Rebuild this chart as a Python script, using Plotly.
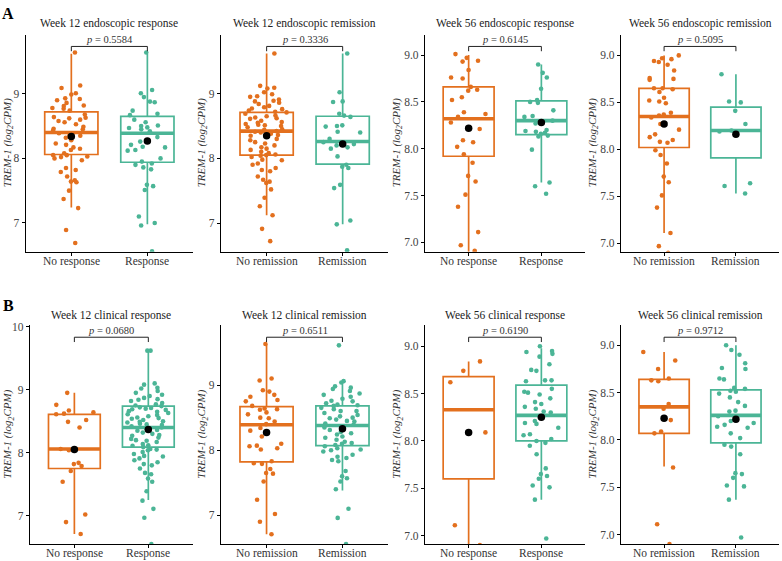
import plotly.graph_objects as go

# ---------------- data ----------------
titles = ["Week 12 endoscopic response", "Week 12 endoscopic remission",
          "Week 56 endoscopic response", "Week 56 endoscopic remission",
          "Week 12 clinical response", "Week 12 clinical remission",
          "Week 56 clinical response", "Week 56 clinical remission"]
neg_labels = ["No response", "No remission", "No response", "No remission",
              "No response", "No remission", "No response", "No remission"]
pos_labels = ["Response", "Remission", "Response", "Remission",
              "Response", "Remission", "Response", "Remission"]
p_values = ["0.5584", "0.3336", "0.6145", "0.5095", "0.0680", "0.6511", "0.6190", "0.9712"]

# box statistics (negative group / positive group)
neg_lo = [7.24, 7.12, 6.90, 7.11, 6.71, 6.71, 6.90, 7.72]
neg_q1 = [8.06, 8.05, 7.92, 8.02, 7.75, 7.82, 7.60, 8.07]
neg_med = [8.40, 8.42, 8.32, 8.35, 8.06, 8.39, 8.33, 8.35]
neg_q3 = [8.72, 8.71, 8.66, 8.65, 8.61, 8.67, 8.68, 8.64]
neg_hi = [9.62, 9.62, 9.00, 9.00, 8.95, 9.63, 8.84, 8.93]
neg_mean = [8.34, 8.35, 8.22, 8.27, 8.05, 8.27, 8.09, 8.23]

pos_lo = [6.98, 6.98, 7.64, 7.53, 7.25, 7.38, 7.38, 7.37]
pos_q1 = [7.94, 7.91, 8.15, 7.91, 8.09, 8.07, 8.00, 7.97]
pos_med = [8.39, 8.26, 8.30, 8.20, 8.40, 8.38, 8.27, 8.26]
pos_q3 = [8.65, 8.65, 8.51, 8.45, 8.74, 8.68, 8.59, 8.53]
pos_hi = [9.62, 9.62, 8.90, 8.80, 9.62, 9.05, 8.98, 9.00]
pos_mean = [8.27, 8.22, 8.28, 8.16, 8.37, 8.33, 8.25, 8.22]

# individual sample values
p1_neg = [9.64, 9.13, 9.09, 9.01, 8.99, 8.93, 8.90, 8.86, 8.82, 8.81, 8.78, 8.77, 8.74, 8.64, 8.63,
          8.62, 8.60, 8.58, 8.56, 8.53, 8.49, 8.46, 8.45, 8.43, 8.39, 8.36, 8.32, 8.28, 8.23, 8.21,
          8.15, 8.13, 8.08, 8.05, 8.03, 8.02, 8.00, 7.97, 7.85, 7.82, 7.79, 7.72, 7.64, 7.63, 7.50,
          7.37, 7.23, 6.89, 6.69, 8.68, 8.35, 8.05, 8.92, 8.17, 7.66]
p1_pos = [9.64, 9.06, 9.01, 8.95, 8.88, 8.87, 8.74, 8.69, 8.67, 8.60, 8.56, 8.51, 8.50, 8.48, 8.45,
          8.42, 8.33, 8.28, 8.21, 8.18, 8.17, 8.13, 8.00, 7.95, 7.92, 7.86, 7.83, 7.59, 7.51, 7.57,
          7.10, 7.00, 6.96, 6.56, 8.47, 8.26, 8.12, 7.90]
p2_neg = [9.62, 9.09, 9.12, 9.08, 9.02, 8.96, 8.95, 8.99, 8.91, 8.88, 8.86, 8.84, 8.81, 8.79, 8.76,
          8.74, 8.71, 8.69, 8.66, 8.63, 8.61, 8.58, 8.56, 8.53, 8.51, 8.48, 8.44, 8.41, 8.38, 8.36,
          8.30, 8.28, 8.23, 8.20, 8.17, 8.13, 8.10, 8.08, 8.05, 8.04, 8.02, 7.97, 7.92, 7.90, 7.85,
          7.82, 7.80, 7.72, 7.67, 7.64, 7.62, 7.52, 7.39, 7.26, 7.12, 6.91, 6.72, 8.72, 8.65, 8.55,
          8.50, 8.45, 8.42, 8.35, 8.25, 8.15, 8.06, 7.98, 8.62, 8.77, 8.89, 8.52, 8.40]
p2_pos = [9.62, 9.02, 8.88, 8.87, 8.69, 8.66, 8.64, 8.51, 8.49, 8.41, 8.30, 8.20, 8.17, 8.15, 8.03,
          7.87, 7.85, 7.59, 7.54, 7.04, 6.98, 6.58, 8.50, 8.22, 8.25, 8.40, 7.90]
p3_neg = [9.01, 8.97, 8.94, 8.93, 8.84, 8.76, 8.75, 8.66, 8.63, 8.62, 8.55, 8.52, 8.39, 8.37, 8.34,
          8.28, 8.21, 8.09, 8.07, 8.02, 7.94, 7.85, 7.71, 7.65, 7.51, 7.38, 7.11, 6.97, 6.91]
p3_pos = [8.90, 8.81, 8.76, 8.64, 8.50, 8.49, 8.52, 8.41, 8.35, 8.34, 8.27, 8.20, 8.19, 8.18, 8.14,
          8.13, 8.17, 7.99, 7.64, 7.60, 7.52, 8.30, 8.16]
p4_neg = [9.00, 8.97, 8.96, 8.94, 8.93, 8.90, 8.84, 8.76, 8.75, 8.74, 8.65, 8.65, 8.64, 8.61, 8.55,
          8.51, 8.52, 8.49, 8.39, 8.37, 8.36, 8.34, 8.27, 8.21, 8.16, 8.13, 8.10, 8.08, 8.07, 7.99,
          7.94, 7.85, 7.71, 7.65, 7.51, 7.38, 7.11, 6.97, 6.90]
p4_pos = [8.80, 8.50, 8.51, 8.41, 8.27, 8.19, 8.20, 7.61, 7.64, 7.53]
p5_neg = [8.95, 8.76, 8.67, 8.61, 8.62, 8.64, 8.52, 8.49, 8.40, 8.04, 7.84, 7.82, 7.79, 7.71, 7.54,
          7.02, 6.90, 6.71, 8.06]
p5_pos = [9.62, 9.62, 9.10, 9.08, 9.03, 9.02, 8.98, 8.95, 8.92, 8.90, 8.87, 8.84, 8.82, 8.79, 8.77,
          8.74, 8.72, 8.70, 8.69, 8.66, 8.65, 8.61, 8.58, 8.56, 8.54, 8.52, 8.49, 8.46, 8.44, 8.42,
          8.39, 8.36, 8.32, 8.30, 8.27, 8.24, 8.22, 8.19, 8.17, 8.14, 8.11, 8.09, 8.06, 8.04, 8.01,
          7.98, 7.94, 7.91, 7.88, 7.85, 7.80, 7.75, 7.68, 7.66, 7.59, 7.54, 7.39, 7.24, 7.11, 6.97,
          6.55, 8.85, 8.75, 8.68, 8.60, 8.55, 8.48, 8.45, 8.40, 8.35, 8.28, 8.20, 8.12, 8.05, 7.95,
          7.82, 8.63, 8.71, 8.50]
p6_neg = [9.63, 9.10, 9.07, 8.92, 8.90, 8.85, 8.82, 8.77, 8.75, 8.68, 8.64, 8.63, 8.62, 8.58, 8.50,
          8.49, 8.44, 8.34, 8.21, 8.10, 8.07, 8.06, 8.03, 8.01, 7.80, 7.79, 7.71, 7.65, 7.64, 7.52,
          7.24, 7.02, 6.90, 6.71, 8.40, 8.55, 8.30, 7.83]
p6_pos = [9.61, 9.06, 9.04, 8.98, 8.96, 8.94, 8.91, 8.87, 8.85, 8.82, 8.79, 8.76, 8.75, 8.72, 8.69,
          8.68, 8.65, 8.63, 8.60, 8.57, 8.54, 8.52, 8.49, 8.47, 8.44, 8.41, 8.39, 8.35, 8.31, 8.26,
          8.24, 8.21, 8.19, 8.16, 8.13, 8.11, 8.08, 8.06, 8.03, 8.01, 7.98, 7.93, 7.88, 7.85, 7.83,
          7.68, 7.60, 7.57, 7.52, 7.40, 7.10, 6.96, 6.56, 8.50, 8.45, 8.28, 8.10, 8.00, 7.90, 8.70,
          8.60]
p7_neg = [8.84, 8.74, 8.62, 8.09, 7.11, 6.90]
p7_pos = [9.00, 8.94, 8.92, 8.89, 8.95, 8.81, 8.75, 8.74, 8.64, 8.63, 8.64, 8.55, 8.52, 8.51, 8.49,
          8.41, 8.39, 8.36, 8.31, 8.30, 8.21, 8.19, 8.14, 8.18, 8.07, 8.06, 8.02, 8.00, 7.98, 7.95,
          7.86, 7.71, 7.65, 7.63, 7.60, 7.53, 7.51, 7.38, 6.97, 8.45, 8.25, 8.34]
p8_neg = [8.93, 8.84, 8.75, 8.65, 8.63, 8.62, 8.38, 8.33, 8.21, 8.09, 8.07, 7.71, 7.11, 6.90]
p8_pos = [9.00, 8.95, 8.90, 8.81, 8.76, 8.75, 8.64, 8.65, 8.55, 8.54, 8.52, 8.51, 8.49, 8.40, 8.36,
          8.31, 8.25, 8.20, 8.18, 8.16, 8.14, 8.13, 8.07, 8.02, 7.95, 7.93, 7.85, 7.65, 7.64, 7.60,
          7.52, 7.51, 7.37, 6.97, 8.45, 8.30]

neg_points = [p1_neg, p2_neg, p3_neg, p4_neg, p5_neg, p6_neg, p7_neg, p8_neg]
pos_points = [p1_pos, p2_pos, p3_pos, p4_pos, p5_pos, p6_pos, p7_pos, p8_pos]

# y-axis ranges and ticks per panel
y_ranges = [[6.553, 9.916], [6.556, 9.91], [6.90, 9.217], [6.91, 9.22],
            [6.55, 10.02], [6.557, 9.916], [6.91, 9.22], [6.90, 9.21]]
y_ticks = [[7, 8, 9], [7, 8, 9], [7.0, 7.5, 8.0, 8.5, 9.0], [7.0, 7.5, 8.0, 8.5, 9.0],
           [7, 8, 9, 10], [7, 8, 9], [7.0, 7.5, 8.0, 8.5, 9.0], [7.0, 7.5, 8.0, 8.5, 9.0]]

# ---------------- style / layout ----------------
W, H = 782, 561
ORANGE = "#E3701E"
TEAL = "#4BB596"
FONT = "Liberation Serif"
BOXW = 0.7

x_dom_px = [(25.7, 193), (221, 388.3), (425, 585), (621, 779),
            (30, 192.7), (221, 388), (425, 585), (621, 779)]
row_top_px = [30, 323.3]
row_bot_px = [249, 544]
ytitle_x_px = [8, 202, 397, 593, 8, 202, 397, 593]

fig = go.Figure()
layout = dict(
    width=W, height=H, paper_bgcolor="white", plot_bgcolor="white",
    margin=dict(l=0, r=0, t=0, b=0), showlegend=False, boxmode="overlay",
    font=dict(family=FONT, size=11, color="#333333"),
)
annotations = []

for i in range(8):
    n = i + 1
    xa = "x" if n == 1 else f"x{n}"
    ya = "y" if n == 1 else f"y{n}"
    row = 0 if i < 4 else 1
    x0, x1 = x_dom_px[i]
    layout[f"xaxis{'' if n == 1 else n}"] = dict(
        domain=[x0 / W, x1 / W], anchor=ya, range=[-0.6, 1.6],
        tickvals=[0, 1], showticklabels=False,
        showline=True, linecolor="black", linewidth=1.3, ticks="outside",
        ticklen=3, tickcolor="black", showgrid=False, zeroline=False,
        fixedrange=True,
    )
    layout[f"yaxis{'' if n == 1 else n}"] = dict(
        domain=[1 - row_bot_px[row] / H, 1 - row_top_px[row] / H], anchor=xa,
        range=y_ranges[i], tickvals=y_ticks[i],
        tickformat=".1f" if len(y_ticks[i]) == 5 else "d",
        showline=True, linecolor="black", linewidth=1.3, ticks="outside",
        ticklen=3, tickcolor="black", showgrid=False, zeroline=False,
        tickfont=dict(size=11.5, color="#444444"), fixedrange=True,
    )

    for k, (col, stats, pts, mean, lab) in enumerate([
        (ORANGE, (neg_lo[i], neg_q1[i], neg_med[i], neg_q3[i], neg_hi[i]), neg_points[i], neg_mean[i], neg_labels[i]),
        (TEAL, (pos_lo[i], pos_q1[i], pos_med[i], pos_q3[i], pos_hi[i]), pos_points[i], pos_mean[i], pos_labels[i]),
    ]):
        lo, q1, med, q3, hi = stats
        # box from precomputed statistics
        fig.add_trace(go.Box(
            x=[k], q1=[q1], median=[med], q3=[q3], lowerfence=[lo], upperfence=[hi],
            width=BOXW, whiskerwidth=0, fillcolor="rgba(255,255,255,0)",
            line=dict(color=col, width=1.7), xaxis=xa, yaxis=ya, hoverinfo="skip",
        ))
        # jittered sample points
        fig.add_trace(go.Box(
            x=[k] * len(pts), y=pts, boxpoints="all", jitter=0.85, pointpos=0,
            width=BOXW, fillcolor="rgba(0,0,0,0)", line=dict(width=0, color=col),
            marker=dict(color=col, size=4.6, line=dict(width=0)),
            xaxis=xa, yaxis=ya, hoverinfo="skip",
        ))
        # thick median line
        fig.add_trace(go.Scatter(
            x=[k - BOXW / 2, k + BOXW / 2], y=[med, med], mode="lines",
            line=dict(color=col, width=3.6), xaxis=xa, yaxis=ya, hoverinfo="skip",
        ))
        # mean dot
        fig.add_trace(go.Scatter(
            x=[k], y=[mean], mode="markers",
            marker=dict(color="black", size=7.5), xaxis=xa, yaxis=ya, hoverinfo="skip",
        ))
        # category label (x tick label)
        annotations.append(dict(
            xref=xa, yref="paper", x=k, y=1 - row_bot_px[row] / H,
            xanchor="center", yanchor="top", yshift=-1, text=lab, showarrow=False,
            font=dict(size=11.5, color="#333333"),
        ))

    # significance bracket
    lo_r, hi_r = y_ranges[i]
    span = hi_r - lo_r
    by = hi_r - 0.054 * span
    tick = 0.022 * span
    fig.add_trace(go.Scatter(
        x=[0, 0, 1, 1], y=[by - tick, by, by, by - tick], mode="lines",
        line=dict(color="#222222", width=1), xaxis=xa, yaxis=ya, hoverinfo="skip",
    ))
    annotations.append(dict(
        xref=xa, yref=ya, x=0.5, y=by, xanchor="center", yanchor="bottom", yshift=-1,
        text=f"<i>p</i> = {p_values[i]}", showarrow=False,
        font=dict(size=10.5, color="#333333"),
    ))
    # panel title
    annotations.append(dict(
        xref="paper", yref="paper", x=(x0 + x1) / 2 / W,
        y=1 - (19 if row == 0 else 313) / H, xanchor="center", yanchor="middle",
        text=titles[i], showarrow=False, font=dict(size=11.5, color="#222222"),
    ))
    # y-axis title
    annotations.append(dict(
        xref="paper", yref="paper", x=ytitle_x_px[i] / W,
        y=1 - (row_top_px[row] + row_bot_px[row]) / 2 / H, textangle=-90,
        xanchor="center", yanchor="middle",
        text="<i>TREM-1 (log<sub>2</sub>CPM)</i>", showarrow=False,
        font=dict(size=11, color="#333333"),
    ))

annotations.append(dict(xref="paper", yref="paper", x=8 / W, y=1 - 9 / H, text="<b>A</b>",
                        showarrow=False, font=dict(size=16, color="black"),
                        xanchor="center", yanchor="middle"))
annotations.append(dict(xref="paper", yref="paper", x=8 / W, y=1 - 303 / H, text="<b>B</b>",
                        showarrow=False, font=dict(size=16, color="black"),
                        xanchor="center", yanchor="middle"))
layout["annotations"] = annotations
fig.update_layout(**layout)
fig.write_html(
    "out.html",
    config={"displayModeBar": False},
    post_script="document.body.style.margin='0';document.body.style.padding='0';"
                "document.body.style.overflow='hidden';",
)
